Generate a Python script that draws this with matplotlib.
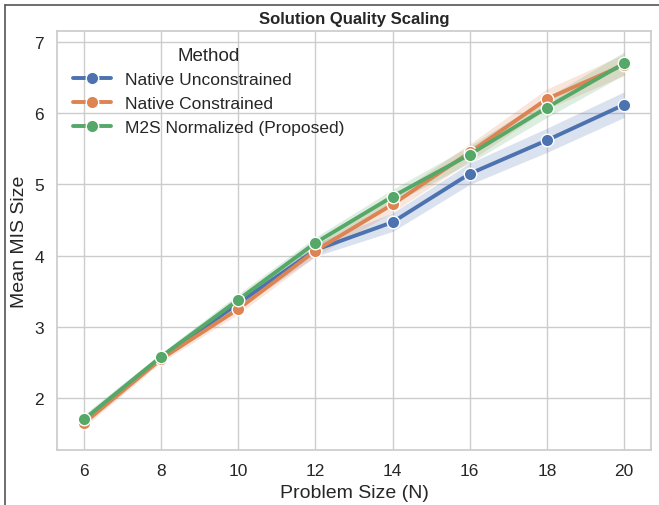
import matplotlib
matplotlib.use("Agg")
import matplotlib.pyplot as plt
import seaborn as sns
import numpy as np
from matplotlib.lines import Line2D

sns.set_theme(style="whitegrid")
plt.rcParams['font.family'] = ['Arial', 'Liberation Sans', 'DejaVu Sans']

sizes = [6, 8, 10, 12, 14, 16, 18, 20]
methods = ["Native Unconstrained", "Native Constrained", "M2S Normalized (Proposed)"]
mean_unc = [1.68, 2.57, 3.33, 4.08, 4.47, 5.15, 5.62, 6.12]
mean_con = [1.65, 2.55, 3.25, 4.07, 4.72, 5.45, 6.20, 6.68]
mean_m2s = [1.70, 2.58, 3.38, 4.18, 4.83, 5.42, 6.08, 6.70]
ci_unc = [0.06, 0.05, 0.07, 0.09, 0.13, 0.15, 0.17, 0.18]
ci_con = [0.06, 0.05, 0.07, 0.08, 0.11, 0.12, 0.14, 0.15]
ci_m2s = [0.07, 0.05, 0.08, 0.08, 0.10, 0.12, 0.14, 0.16]

means = [mean_unc, mean_con, mean_m2s]
cis = [ci_unc, ci_con, ci_m2s]
colors = sns.color_palette("deep")[:3]

fig = plt.figure(figsize=(6.59, 5.06), dpi=100)
ax = fig.add_axes([57/659, 1 - 451/506, (651-57)/659, (451-32)/506])

x = np.array(sizes)
for m, mu, ci, c in zip(methods, means, cis, colors):
    mu = np.array(mu); ci = np.array(ci)
    ax.fill_between(x, mu - ci, mu + ci, color=c, alpha=0.2, linewidth=0)
    ax.plot(x, mu, color=c, lw=2.8, marker="o", markersize=9,
            markeredgecolor="white", markeredgewidth=1, label=m)

ax.set_xticks(sizes)
ax.set_xlim(5.3, 20.7)
ax.set_ylim(1.27, 7.155)
ax.set_yticks([2, 3, 4, 5, 6, 7])
ax.tick_params(labelsize=12.5, colors="#262626")
ax.set_xlabel("Problem Size (N)", fontsize=14, color="#262626")
ax.set_ylabel("Mean MIS Size", fontsize=14, color="#262626")
ax.set_title("Solution Quality Scaling", fontsize=12, fontweight="bold")
leg = ax.legend(title="Method", loc="upper left", fontsize=12.5, title_fontsize=13.5,
                frameon=False, handlelength=2.2)

fig.add_artist(Line2D([5/659, 1], [1 - 6/506, 1 - 6/506], color="#555555", lw=1.2,
                      transform=fig.transFigure))
fig.add_artist(Line2D([5/659, 5/659], [0, 1 - 6/506], color="#555555", lw=1.2,
                      transform=fig.transFigure))

fig.savefig("out.png", dpi=100)
